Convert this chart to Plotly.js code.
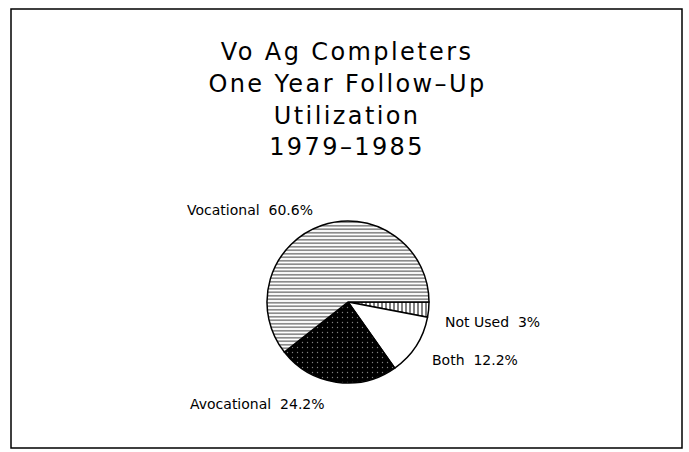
<!DOCTYPE html>
<html>
<head>
<meta charset="utf-8">
<script src="https://cdn.plot.ly/plotly-3.0.1.min.js"></script>
<style>
html,body{margin:0;padding:0;background:#fff;}
#chart{width:689px;height:452px;}
g.annotation[data-index="0"] text,
g.annotation[data-index="1"] text,
g.annotation[data-index="2"] text,
g.annotation[data-index="3"] text { letter-spacing: 2.4px; }
</style>
</head>
<body>
<div id="chart"></div>
<script>
// Data
var categories = ["Not Used", "Both", "Avocational", "Vocational"];
var percents = [3, 12.2, 24.2, 60.6];
var titleLines = ["Vo Ag Completers", "One Year Follow\u2013Up", "Utilization", "1979\u20131985"];

var W = 689, H = 452;
// pie geometry (pixels)
var cx = 348, cy = 302, r = 81;

var trace = {
  type: "pie",
  labels: categories,
  values: percents,
  sort: false,
  direction: "clockwise",
  rotation: 90,
  textinfo: "none",
  hoverinfo: "label+percent",
  showlegend: false,
  domain: {
    x: [(cx - r) / W, (cx + r) / W],
    y: [(H - cy - r) / H, (H - cy + r) / H]
  },
  marker: {
    colors: ["white", "white", "black", "white"],
    line: {color: "black", width: 1.5},
    pattern: {
      shape: ["|", "", ".", "-"],
      fgcolor: ["black", "black", "white", "black"],
      bgcolor: ["white", "white", "black", "white"],
      size: [4, 4, 5, 3.5],
      solidity: [0.5, 0.3, 0.06, 0.45],
      fillmode: "overlay"
    }
  }
};

function lbl(i) { return categories[i] + "  " + percents[i] + "%"; }

var titleFont = {family: "DejaVu Sans, sans-serif", size: 24, color: "black"};
var labelFont = {family: "DejaVu Sans, sans-serif", size: 14, color: "black"};

var titleY = [51.5, 84, 116, 147];
var annotations = titleLines.map(function (t, i) {
  return {text: t, x: 347 / W, y: 1 - titleY[i] / H, xref: "paper", yref: "paper",
          xanchor: "center", yanchor: "middle", showarrow: false, font: titleFont};
});

[
  {text: lbl(3), x: 185 / W, y: 1 - 210 / H},
  {text: lbl(0), x: 443 / W, y: 1 - 322 / H},
  {text: lbl(1), x: 430 / W, y: 1 - 360 / H},
  {text: lbl(2), x: 188 / W, y: 1 - 404 / H}
].forEach(function (a) {
  annotations.push({text: a.text, x: a.x, y: a.y, xref: "paper", yref: "paper",
          xanchor: "left", yanchor: "middle", showarrow: false, font: labelFont});
});

var layout = {
  width: W, height: H,
  margin: {l: 0, r: 0, t: 0, b: 0},
  paper_bgcolor: "white",
  plot_bgcolor: "white",
  annotations: annotations,
  shapes: [{
    type: "rect", xref: "paper", yref: "paper",
    x0: 11 / W, x1: 682 / W, y0: 1 - 448 / H, y1: 1 - 9 / H,
    line: {color: "black", width: 1.5}
  }]
};

Plotly.newPlot("chart", [trace], layout, {displayModeBar: false, staticPlot: true});
</script>
</body>
</html>
